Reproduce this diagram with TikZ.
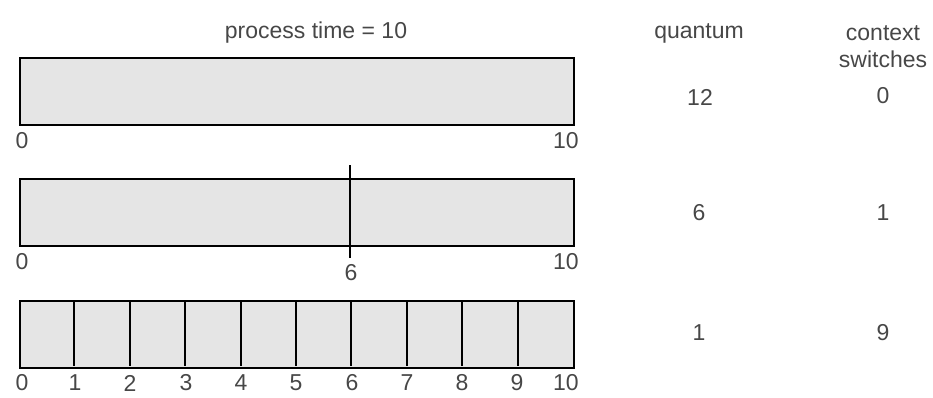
\documentclass[tikz,border=0pt]{standalone}
\usepackage{fontspec}
\setmainfont{Liberation Sans}
\usetikzlibrary{positioning}

\begin{document}
\begin{tikzpicture}[x=0.5pt,y=-0.5pt]
	\begin{scope}[
		bar/.style={rectangle,draw,line width=1pt,fill=black!10,minimum width=277pt,minimum height=33.5pt,inner sep=0pt,anchor=north west},
		lbl/.style={text=black!72,font=\fontsize{11.5}{13.5}\selectfont,inner sep=0pt,align=center},
		tick/.style={line width=1pt}]
		\useasboundingbox (0,0) rectangle (933,397);
		% headings
		\node [lbl]	(title)		at (316,33)	{process time = 10};
		\node [lbl]	(qhead)		at (699,33)	{quantum};
		\node [lbl]	(cshead)	at (883,47)	{context\\switches};
		% quantum 12
		\node [bar]	(bar1)	at (19,57)	{};
		\node [lbl]	(b1s)	at (22,141)	{0};
		\node [lbl]	(b1e)	at (566,141)	{10};
		\node [lbl]	(q1)	at (700,97)	{12};
		\node [lbl]	(c1)	at (883,96)	{0};
		% quantum 6
		\node [bar]	(bar2)	at (19,178)	{};
		\draw [tick] (350,165) -- (350,258);
		\node [lbl]	(b2s)	at (22,262)	{0};
		\node [lbl]	(b2m)	at (351,273)	{6};
		\node [lbl]	(b2e)	at (566,262)	{10};
		\node [lbl]	(q2)	at (699,213)	{6};
		\node [lbl]	(c2)	at (883,213)	{1};
		% quantum 1
		\node [bar]	(bar3)	at (19,300)	{};
		\foreach \i in {1,...,9}
			\draw [tick] (19+55.4*\i,300) -- (19+55.4*\i,366);
		\foreach \xpos [count=\i from 0] in {22,75,130,186,241,296,352,407,462,517,566}
			\node [lbl] (b3t\i) at (\xpos,383) {\i};
		\node [lbl]	(q3)	at (699,333)	{1};
		\node [lbl]	(c3)	at (883,333)	{9};
	\end{scope}
\end{tikzpicture}
\end{document}
